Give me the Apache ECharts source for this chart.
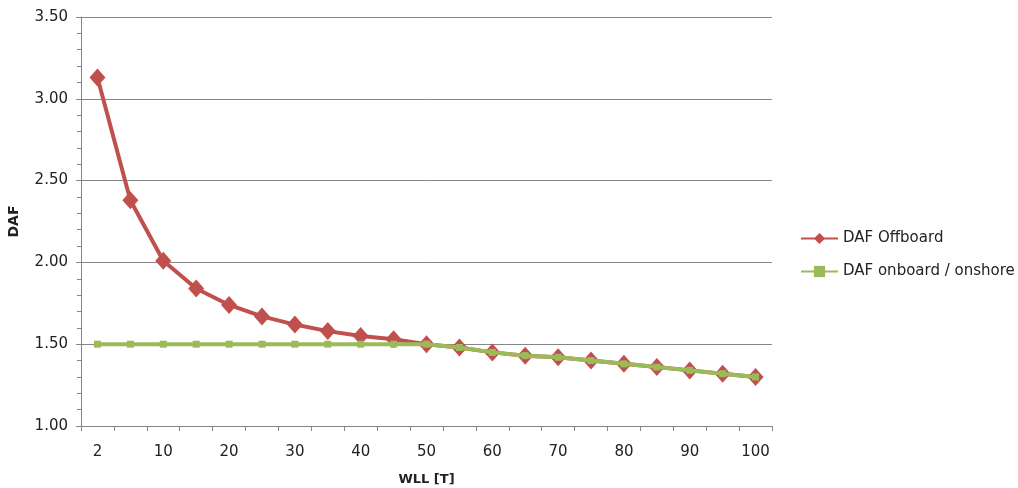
<!DOCTYPE html>
<html>
<head>
<meta charset="utf-8">
<script src="https://cdn.jsdelivr.net/npm/echarts@6/dist/echarts.min.js"></script>
<style>html,body{margin:0;padding:0;background:#fff}#c{width:1018px;height:488px}</style>
</head>
<body>
<div id="c"></div>
<script>
const categories = ['2','5','10','15','20','25','30','35','40','45','50','55','60','65','70','75','80','85','90','95','100'];
const dafOffboard = [3.13,2.38,2.01,1.84,1.74,1.67,1.62,1.58,1.55,1.53,1.50,1.48,1.45,1.43,1.42,1.40,1.38,1.36,1.34,1.32,1.30];
const dafOnboard = [1.50,1.50,1.50,1.50,1.50,1.50,1.50,1.50,1.50,1.50,1.50,1.48,1.45,1.43,1.42,1.40,1.38,1.36,1.34,1.32,1.30];
const seriesNames = ['DAF Offboard','DAF onboard / onshore'];

const font = 'DejaVu Sans';
const chart = echarts.init(document.getElementById('c'), null, {renderer:'canvas'});
chart.setOption({
  animation:false,
  backgroundColor:'#ffffff',
  grid:{left:81,right:246,top:17,bottom:62,containLabel:false,outerBoundsMode:'none'},
  legend:{
    orient:'vertical', left:795, top:226, itemGap:18,
    itemWidth:37, itemHeight:14,
    textStyle:{fontFamily:font,fontSize:15,color:'#222'},
    data:seriesNames
  },
  xAxis:{
    type:'category', data:categories, boundaryGap:true,
    name:'WLL [T]', nameLocation:'middle', nameGap:47,
    nameTextStyle:{fontFamily:font,fontSize:13,fontWeight:'bold',color:'#222'},
    axisLine:{lineStyle:{color:'#868686',width:1}},
    axisTick:{show:true,interval:0,length:5,lineStyle:{color:'#868686'}},
    axisLabel:{interval:1,margin:19,fontFamily:font,fontSize:15,color:'#222'},
    splitLine:{show:false}
  },
  yAxis:{
    type:'value', min:1, max:3.5, interval:0.5,
    name:'DAF', nameLocation:'middle', nameGap:60, nameRotate:90,
    nameTextStyle:{fontFamily:font,fontSize:14,fontWeight:'bold',color:'#222'},
    axisLine:{show:true,lineStyle:{color:'#868686',width:1}},
    axisTick:{show:true,length:5,lineStyle:{color:'#868686'}},
    minorTick:{show:true,splitNumber:5,length:4,lineStyle:{color:'#868686'}},
    axisLabel:{margin:13,fontFamily:font,fontSize:15,color:'#222',formatter:v=>v.toFixed(2)},
    splitLine:{show:true,lineStyle:{color:'#868686',width:1}}
  },
  series:[
    {name:seriesNames[0],type:'line',data:dafOffboard,symbol:'diamond',symbolSize:[16,18],
     lineStyle:{color:'#C0504D',width:4},itemStyle:{color:'#C0504D'},z:2},
    {name:seriesNames[1],type:'line',data:dafOnboard,symbol:'rect',symbolSize:7,
     lineStyle:{color:'#9BBB59',width:4},itemStyle:{color:'#9BBB59'},z:3}
  ]
});
</script>
</body>
</html>
